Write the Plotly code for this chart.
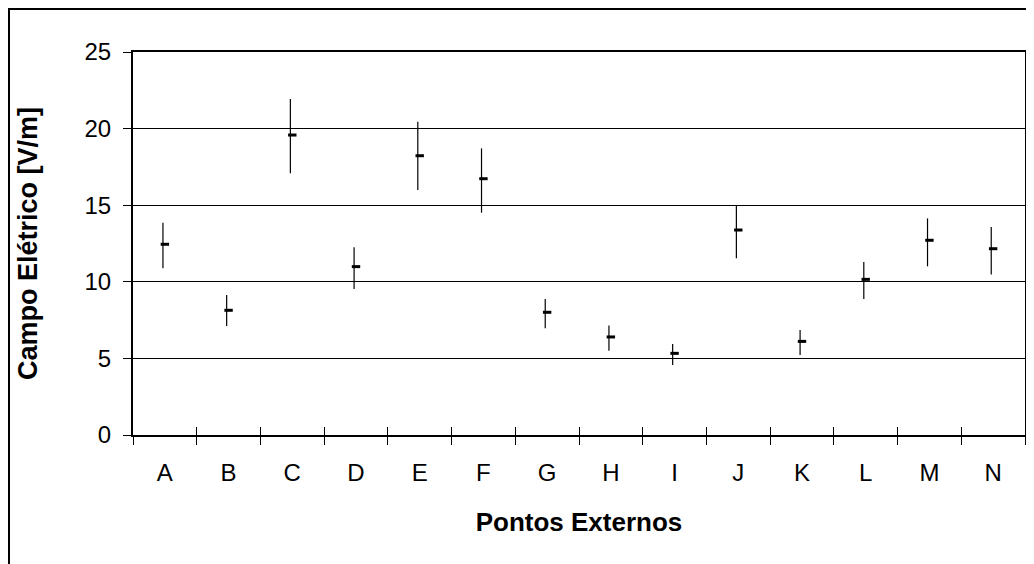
import plotly.graph_objects as go

pontos = ["A", "B", "C", "D", "E", "F", "G", "H", "I", "J", "K", "L", "M", "N"]
campo_max = [13.86, 9.14, 21.93, 12.25, 20.45, 18.71, 8.88, 7.14, 5.94, 14.95, 6.85, 11.29, 14.14, 13.58]
campo_med = [12.45, 8.14, 19.58, 10.99, 18.23, 16.73, 8.01, 6.40, 5.33, 13.38, 6.11, 10.16, 12.71, 12.16]
campo_min = [10.88, 7.11, 17.08, 9.53, 15.99, 14.51, 6.96, 5.50, 4.57, 11.53, 5.22, 8.88, 11.01, 10.47]

y_ticks = [0, 5, 10, 15, 20, 25]

err_plus = [hi - m for hi, m in zip(campo_max, campo_med)]
err_minus = [m - lo for m, lo in zip(campo_med, campo_min)]

FONT = "Liberation Sans, Arial, sans-serif"

ML, MR, MT, MB = 125, 17, 44, 137
PW = 1034 - ML - MR
PH = 564 - MT - MB

fig = go.Figure()

# high-low range lines (slightly left of the close tick, on a shifted overlay axis)
fig.add_trace(go.Scatter(
    x=pontos, y=campo_med, xaxis="x2", mode="markers",
    marker=dict(color="rgba(0,0,0,0)", size=1),
    error_y=dict(type="data", symmetric=False, array=err_plus, arrayminus=err_minus,
                 color="black", thickness=1.2, width=0),
    hoverinfo="skip", showlegend=False,
))

# close markers
fig.add_trace(go.Scatter(
    x=pontos, y=campo_med, mode="markers",
    marker=dict(symbol="line-ew", size=6, color="black", line=dict(color="black", width=3)),
    showlegend=False,
))

# dummy trace for inner tick axis
fig.add_trace(go.Scatter(x=[None], y=[None], xaxis="x3", showlegend=False, hoverinfo="skip"))

n = len(pontos)
fig.update_layout(
    width=1034, height=564,
    paper_bgcolor="white", plot_bgcolor="white",
    margin=dict(l=ML, r=MR, t=MT, b=MB),
    font=dict(family=FONT, color="black", size=24),
    xaxis=dict(
        type="category", categoryorder="array", categoryarray=pontos,
        range=[-0.5, n - 0.5], tickson="boundaries",
        ticks="outside", ticklen=8, tickwidth=1, tickcolor="black",
        showline=True, linecolor="black", linewidth=2, mirror=True,
        showgrid=False, zeroline=False,
        tickfont=dict(size=24), ticklabelstandoff=15,
        title=dict(text="<b>Pontos Externos</b>", font=dict(size=26), standoff=28),
    ),
    xaxis2=dict(
        type="category", categoryorder="array", categoryarray=pontos,
        range=[-0.47, n - 0.47], overlaying="x", anchor="y",
        showticklabels=False, ticks="", showgrid=False, showline=False, zeroline=False,
    ),
    xaxis3=dict(
        range=[-0.5, n - 0.5], overlaying="x", anchor="y",
        tickvals=[i - 0.5 for i in range(n + 1)],
        showticklabels=False, ticks="inside", ticklen=8, tickwidth=1, tickcolor="black",
        showgrid=False, showline=False, zeroline=False,
    ),
    yaxis=dict(
        range=[0, 25], tickvals=y_ticks,
        ticks="outside", ticklen=8, tickwidth=1, tickcolor="black",
        showline=True, linecolor="black", linewidth=2, mirror=True,
        showgrid=True, gridcolor="black", gridwidth=1, zeroline=False,
        tickfont=dict(size=24), ticklabelstandoff=7,
        title=dict(text="<b>Campo Elétrico [V/m]</b>", font=dict(size=27), standoff=39),
    ),
    shapes=[dict(
        type="rect", xref="paper", yref="paper",
        x0=-(ML - 1) / PW, x1=1.2, y0=-0.6, y1=1 + (MT - 1) / PH,
        line=dict(color="black", width=2), fillcolor="rgba(0,0,0,0)", layer="below",
    )],
)

fig.write_html("out.html")
